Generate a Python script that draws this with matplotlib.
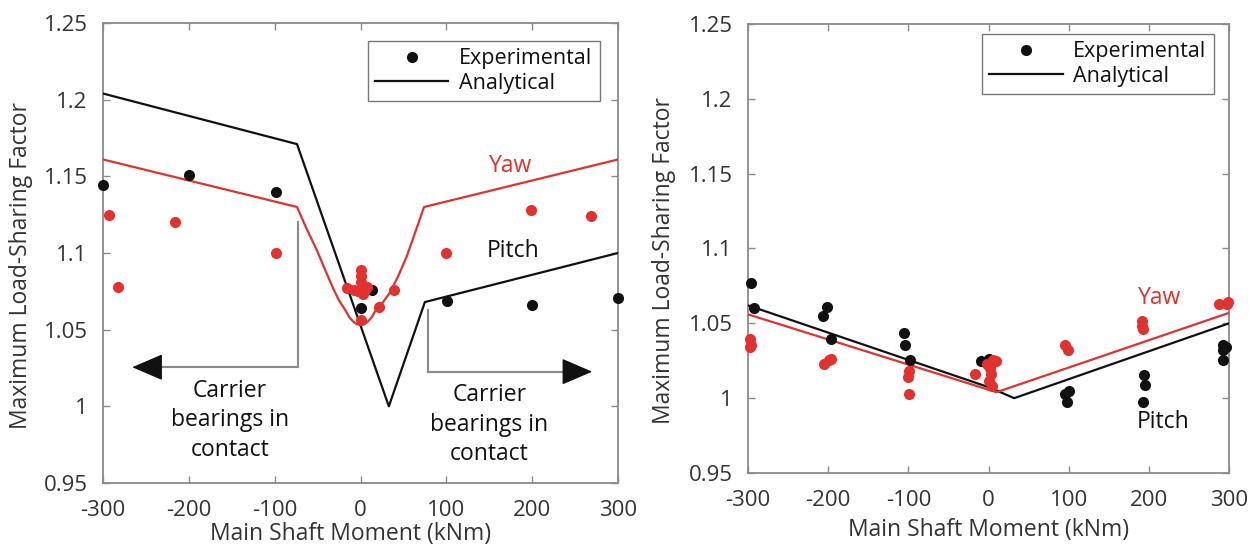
import matplotlib
matplotlib.use("Agg")
import matplotlib.pyplot as plt
from matplotlib.ticker import FuncFormatter

plt.rcParams['font.family'] = ['Open Sans', 'DejaVu Sans']

RED = '#e3312d'
BLK = '#111111'
GRAY = '#8a8a8a'
TXT = '#333333'

x_ticks = [-300, -200, -100, 0, 100, 200, 300]
y_ticks = [0.95, 1.0, 1.05, 1.1, 1.15, 1.2, 1.25]

# ---------------- Left panel data ----------------
L_pitch_line_x = [-300, -74, 33, 75, 300]
L_pitch_line_y = [1.204, 1.171, 1.000, 1.068, 1.100]

L_yaw_line_x = [-300, -74, -63, -51, -42, -32, -25, -18, -13, -8, -4, 0, 4, 8, 13, 18, 25, 34, 44, 54, 64, 74, 300]
L_yaw_line_y = [1.161, 1.130, 1.116, 1.102, 1.090, 1.077, 1.069, 1.063, 1.058, 1.055, 1.0535, 1.053,
                1.0535, 1.055, 1.058, 1.063, 1.067, 1.074, 1.085, 1.098, 1.114, 1.130, 1.161]

L_black_exp_x = [-300, -200, -98, 1, 13, 101, 200, 300]
L_black_exp_y = [1.1445, 1.151, 1.1395, 1.064, 1.076, 1.069, 1.066, 1.0705]

L_red_exp_x = [-293, -282, -216, -98, -16, -3, 0, 1, 1, 2, 5, 3, 8, -8, 21, 39, 0, 100, 199, 269]
L_red_exp_y = [1.125, 1.078, 1.120, 1.100, 1.077, 1.075, 1.081, 1.085, 1.089, 1.077, 1.076, 1.073,
               1.078, 1.076, 1.065, 1.076, 1.056, 1.100, 1.128, 1.124]

# ---------------- Right panel data ----------------
R_pitch_line_x = [-300, 2, 32, 300]
R_pitch_line_y = [1.062, 1.007, 1.000, 1.050]

R_yaw_line_x = [-300, 10, 300]
R_yaw_line_y = [1.056, 1.004, 1.057]

R_black_exp_x = [-296, -293, -206, -202, -197, -106, -104, -98, -9, 1, 95, 100, 98, 194, 195, 193, 293, 293, 293, 296]
R_black_exp_y = [1.0767, 1.0605, 1.0552, 1.061, 1.0395, 1.0437, 1.0356, 1.0257, 1.025, 1.0265,
                 1.0026, 1.0049, 0.9975, 1.0155, 1.0091, 0.9975, 1.0356, 1.0322, 1.0257, 1.034]

R_red_exp_x = [-297, -296, -297, -205, -199, -196, -99, -100, -99, -17, -2, 5, 9, 3, 1, 4, 2, 95, 99, 191, 192, 193, 287, 297, 299]
R_red_exp_y = [1.0395, 1.0356, 1.0345, 1.023, 1.0252, 1.0264, 1.0183, 1.0141, 1.0026, 1.016,
               1.0229, 1.0252, 1.025, 1.016, 1.0114, 1.008, 1.020, 1.0356, 1.0322, 1.0483, 1.0517, 1.046,
               1.0626, 1.0626, 1.0644]

carrier_text = "Carrier\nbearings in\ncontact"

fig = plt.figure(figsize=(12.49, 5.45), dpi=100)
axL = fig.add_axes([0.0825, 0.1138, 0.4123, 0.844])
axR = fig.add_axes([0.5989, 0.1321, 0.3851, 0.8239])

fmt = FuncFormatter(lambda v, p: ('%g' % round(v, 3)))

def style(ax):
    ax.set_xlim(-300, 300)
    ax.set_ylim(0.95, 1.25)
    ax.set_xticks(x_ticks)
    ax.set_yticks(y_ticks)
    ax.yaxis.set_major_formatter(fmt)
    ax.xaxis.set_major_formatter(fmt)
    ax.tick_params(direction='in', top=True, right=True, length=5, width=1, color=GRAY,
                   labelsize=16, labelcolor=TXT)
    ax.tick_params(axis='x', pad=12)
    ax.tick_params(axis='y', pad=11)
    for s in ax.spines.values():
        s.set_color(GRAY)
        s.set_linewidth(1.3)
    ax.set_xlabel('Main Shaft Moment (kNm)', fontsize=16.5, color=TXT)
    ax.set_ylabel('Maximum Load-Sharing Factor', fontsize=16.5, color=TXT)

for ax in (axL, axR):
    style(ax)

ms = 8
# Left
axL.plot(L_pitch_line_x, L_pitch_line_y, color=BLK, lw=1.6, zorder=3)
axL.plot(L_yaw_line_x, L_yaw_line_y, color=RED, lw=1.6, zorder=3)
axL.plot(L_black_exp_x, L_black_exp_y, 'o', color=BLK, ms=ms, mec='none', zorder=4, clip_on=False)
axL.plot(L_red_exp_x, L_red_exp_y, 'o', color=RED, ms=ms, mec='none', zorder=5, clip_on=False)

# Right
axR.plot(R_pitch_line_x, R_pitch_line_y, color=BLK, lw=1.6, zorder=3)
axR.plot(R_yaw_line_x, R_yaw_line_y, color=RED, lw=1.6, zorder=3)
axR.plot(R_black_exp_x, R_black_exp_y, 'o', color=BLK, ms=ms, mec='none', zorder=4, clip_on=False)
axR.plot(R_red_exp_x, R_red_exp_y, 'o', color=RED, ms=ms, mec='none', zorder=5, clip_on=False)

# legends
for ax, anchor in ((axL, (0.965, 0.961)), (axR, (0.969, 0.978))):
    h1, = ax.plot([], [], 'o', color=BLK, ms=ms, mec='none', label='Experimental')
    h2, = ax.plot([], [], '-', color=BLK, lw=1.6, label='Analytical')
    leg = ax.legend(handles=[h1, h2], loc='upper right', bbox_to_anchor=anchor, borderaxespad=0,
                    fontsize=15.5, frameon=True, fancybox=False, handlelength=3.4, handletextpad=0.5,
                    borderpad=0.35, labelspacing=0.15, edgecolor='#555555')
    leg.get_frame().set_linewidth(1.0)
    for t in leg.get_texts():
        t.set_color(BLK)

# Yaw / Pitch labels
axL.text(175, 1.157, 'Yaw', color=RED, fontsize=16.5, ha='center', va='center')
axL.text(178, 1.101, 'Pitch', color=BLK, fontsize=16.5, ha='center', va='center')
axR.text(213, 1.067, 'Yaw', color=RED, fontsize=16.5, ha='center', va='center')
axR.text(218, 0.984, 'Pitch', color=BLK, fontsize=16.5, ha='center', va='center')

# carrier annotations
head = dict(arrowstyle='-|>,head_length=1.4,head_width=0.6', color=BLK, lw=1.0,
            shrinkA=0, shrinkB=0, mutation_scale=14)
axL.plot([-73, -73], [1.120, 1.0255], color=GRAY, lw=1.5)
axL.plot([-73, -255], [1.0255, 1.0255], color=GRAY, lw=1.5)
axL.annotate('', xy=(-266, 1.0255), xytext=(-250, 1.0255), arrowprops=head)
axL.plot([79, 79], [1.063, 1.0226], color=GRAY, lw=1.5)
axL.plot([79, 260], [1.0226, 1.0226], color=GRAY, lw=1.5)
axL.annotate('', xy=(270, 1.0226), xytext=(254, 1.0226), arrowprops=head)
axL.text(-152, 0.991, carrier_text, fontsize=16.5, color=BLK, ha='center', va='center', linespacing=1.3)
axL.text(150, 0.988, carrier_text, fontsize=16.5, color=BLK, ha='center', va='center', linespacing=1.3)

axL.yaxis.set_label_coords(-0.136, 0.472)
axR.yaxis.set_label_coords(-0.150, 0.474)
axL.xaxis.set_label_coords(0.48, -0.085)
axR.xaxis.set_label_coords(0.5, -0.100)

fig.savefig('out.png', dpi=100)
